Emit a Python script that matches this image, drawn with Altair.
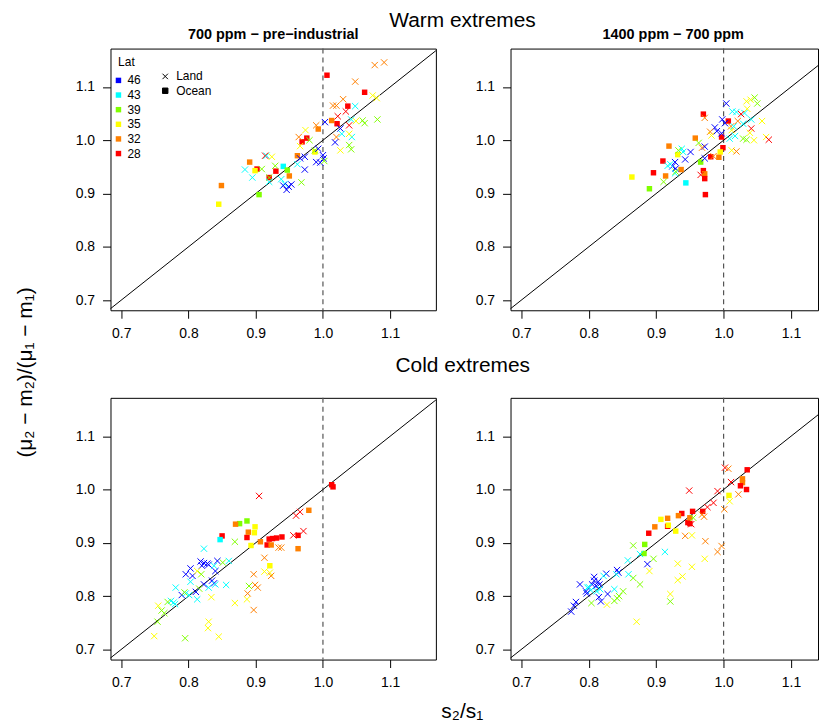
import altair as alt
import pandas as pd

FONT = "Liberation Sans"
LATS = ["46", "43", "39", "35", "32", "28"]
LAT_COLORS = ["#0000FF", "#00FFFF", "#80FF00", "#FFFF00", "#FF8000", "#FF0000"]
TYPES = ["Land", "Ocean"]
X_PATH = "M-1,-1L1,1M-1,1L1,-1"
TICKS = [0.7, 0.8, 0.9, 1.0, 1.1]
X_MIN, X_MAX, X_MAX_CLIPPED = 0.684, 1.168, 1.140
Y_MIN, Y_MAX = 0.681, 1.172

# (x = s2/s1, y = (mu2-m2)/(mu1-m1), lat)
WARM1_OCEAN = [(1.006,1.122,28),(1.062,1.090,28),(1.037,1.064,28),(1.013,1.037,32),(1.021,1.031,28),
               (0.993,1.021,32),(0.976,1.004,28),(0.969,0.997,28),(0.962,0.971,32),(0.988,0.978,35),
               (0.891,0.959,32),(0.902,0.946,28),(0.899,0.943,35),(0.941,0.951,43),(0.947,0.944,39),
               (0.930,0.942,28),(0.920,0.930,28),(0.950,0.933,32),(0.905,0.898,39),(0.849,0.915,32),
               (0.845,0.880,35)]
WARM1_LAND = [(1.077,1.141,32),(1.091,1.146,32),(1.048,1.110,32),(1.030,1.077,32),(1.015,1.065,32),
              (1.020,1.065,32),(1.048,1.064,43),(1.022,1.045,28),(1.034,1.054,28),(1.074,1.084,35),
              (1.080,1.079,35),(1.042,1.039,43),(1.049,1.036,35),(1.059,1.037,39),(1.062,1.032,39),
              (1.081,1.039,39),(1.003,1.034,46),(1.026,1.022,46),(1.039,1.028,28),(0.990,1.028,32),
              (1.028,1.012,43),(1.043,1.006,43),(1.039,1.012,35),(1.020,1.006,32),(1.018,0.996,46),
              (1.026,0.981,35),(1.039,0.991,39),(1.042,0.983,39),(0.964,1.006,32),(0.974,1.019,35),
              (0.980,1.000,39),(0.966,0.989,35),(0.988,0.981,39),(0.993,0.984,46),(1.000,0.972,46),
              (1.001,0.966,46),(0.990,0.959,46),(0.996,0.958,46),(1.002,0.961,39),(0.973,0.969,46),
              (0.966,0.966,46),(0.962,0.955,43),(0.973,0.945,46),(0.914,0.971,28),(0.916,0.971,43),
              (0.924,0.969,35),(0.929,0.952,39),(0.884,0.945,43),(0.895,0.930,43),(0.909,0.946,39),
              (0.920,0.930,39),(0.920,0.922,43),(0.938,0.927,43),(0.943,0.918,43),(0.941,0.915,46),
              (0.953,0.917,46),(0.946,0.907,46),(0.949,0.913,46),(0.968,0.921,39)]

WARM2_OCEAN = [(0.864,0.931,35),(0.890,0.909,39),(0.896,0.939,28),(0.914,0.933,32),(0.944,0.920,43),
               (0.910,0.961,28),(0.919,0.989,32),(0.932,0.973,35),(0.958,1.004,32),(0.970,1.049,28),
               (1.007,1.036,28),(0.997,1.006,28),(0.999,0.986,28),(0.995,0.978,35),(0.993,0.968,32),
               (0.981,0.969,28),(0.966,0.959,39),(0.970,0.943,28),(0.972,0.937,32),(0.972,0.928,28),
               (0.973,0.898,28),(0.937,0.945,32)]
WARM2_LAND = [(1.004,1.069,46),(1.034,1.073,35),(1.040,1.076,35),(1.046,1.080,39),(1.050,1.069,39),
              (1.035,1.059,35),(1.013,1.054,43),(1.019,1.053,43),(1.031,1.051,43),(1.026,1.049,28),
              (0.972,1.042,32),(0.998,1.039,46),(1.002,1.032,46),(0.987,1.024,46),(0.990,1.017,46),
              (1.021,1.036,32),(1.029,1.031,43),(1.041,1.039,43),(1.057,1.036,35),(1.041,1.022,28),
              (1.011,1.026,32),(1.012,1.019,35),(1.015,1.026,43),(1.039,1.014,35),(1.017,1.008,43),
              (1.009,1.003,43),(0.980,1.016,32),(0.982,1.009,35),(0.997,1.013,46),(1.029,1.003,39),
              (1.034,1.001,39),(1.045,1.000,35),(1.063,1.006,35),(1.067,1.001,28),(1.012,0.981,35),
              (1.019,0.979,32),(0.985,0.970,32),(0.972,0.988,46),(0.968,0.986,32),(0.963,0.995,39),
              (0.972,0.966,46),(0.951,0.978,46),(0.943,0.964,46),(0.938,0.984,43),(0.940,0.978,43),
              (0.933,0.981,39),(0.928,0.959,46),(0.924,0.951,46),(0.929,0.947,46),(0.917,0.952,43),
              (0.921,0.955,43),(0.928,0.938,43),(0.929,0.941,39),(0.911,0.922,39),(0.966,0.935,28)]

COLD1_OCEAN = [(1.013,1.009,28),(1.015,1.005,28),(0.979,0.961,32),(0.963,0.914,28),(0.963,0.889,32),
               (0.939,0.911,28),(0.931,0.909,28),(0.925,0.908,28),(0.920,0.907,28),(0.917,0.896,28),
               (0.923,0.896,32),(0.907,0.902,32),(0.893,0.895,35),(0.887,0.910,28),(0.889,0.920,32),
               (0.898,0.919,35),(0.899,0.930,35),(0.887,0.941,39),(0.876,0.936,39),(0.870,0.935,32),
               (0.921,0.857,35),(0.850,0.913,28),(0.847,0.906,43)]
COLD1_LAND = [(0.905,0.988,28),(0.960,0.951,28),(0.966,0.958,28),(0.971,0.922,28),(0.956,0.914,28),
              (0.934,0.891,32),(0.938,0.891,32),(0.913,0.872,32),(0.913,0.846,35),(0.921,0.844,35),
              (0.923,0.838,32),(0.897,0.841,32),(0.899,0.821,32),(0.903,0.816,32),(0.890,0.819,39),
              (0.888,0.805,32),(0.887,0.794,35),(0.869,0.787,35),(0.897,0.774,32),(0.869,0.902,39),
              (0.823,0.889,43),(0.818,0.865,46),(0.823,0.862,46),(0.828,0.861,46),(0.820,0.857,46),
              (0.830,0.859,46),(0.843,0.866,46),(0.840,0.847,46),(0.838,0.857,43),(0.851,0.863,39),
              (0.860,0.866,43),(0.803,0.852,46),(0.796,0.841,46),(0.806,0.838,46),(0.819,0.841,39),
              (0.813,0.847,35),(0.803,0.827,43),(0.823,0.822,46),(0.835,0.829,46),(0.838,0.824,46),
              (0.830,0.816,43),(0.840,0.822,43),(0.856,0.821,43),(0.816,0.814,39),(0.811,0.808,46),
              (0.790,0.802,46),(0.796,0.805,43),(0.801,0.802,43),(0.794,0.807,39),(0.813,0.794,43),
              (0.781,0.816,43),(0.834,0.798,35),(0.774,0.791,43),(0.780,0.785,43),(0.778,0.788,43),
              (0.769,0.789,39),(0.755,0.782,35),(0.760,0.773,39),(0.764,0.768,39),(0.754,0.752,39),
              (0.749,0.725,35),(0.795,0.721,39),(0.830,0.752,35),(0.829,0.740,35),(0.845,0.724,35)]

COLD2_OCEAN = [(1.035,1.037,28),(1.028,1.020,32),(1.028,1.013,32),(1.025,1.007,28),(1.034,1.000,28),
               (1.008,0.989,35),(0.954,0.959,28),(0.969,0.959,28),(0.938,0.955,28),(0.933,0.951,32),
               (0.917,0.946,32),(0.907,0.944,35),(0.947,0.938,28),(0.950,0.936,28),(0.917,0.931,28),
               (0.918,0.933,35),(0.898,0.930,32),(0.929,0.922,35),(0.889,0.918,28),(0.883,0.897,39),
               (0.882,0.880,39),(0.950,0.947,32)]
COLD2_LAND = [(1.002,1.041,28),(1.007,1.039,32),(1.011,1.014,28),(0.991,0.997,28),(0.949,0.998,28),
              (1.022,0.991,32),(1.009,0.978,35),(0.985,0.975,28),(0.976,0.967,28),(1.001,0.963,32),
              (0.968,0.953,32),(0.971,0.949,32),(0.955,0.947,39),(0.952,0.935,28),(0.943,0.913,32),
              (0.953,0.914,35),(0.973,0.903,32),(0.997,0.894,32),(0.991,0.883,32),(0.972,0.870,35),
              (0.913,0.883,43),(0.896,0.870,39),(0.887,0.860,46),(0.890,0.847,35),(0.932,0.861,35),
              (0.953,0.855,35),(0.939,0.837,35),(0.932,0.830,35),(0.921,0.804,35),(0.921,0.790,39),
              (0.866,0.895,39),(0.876,0.879,43),(0.858,0.867,43),(0.842,0.849,46),(0.844,0.844,46),
              (0.841,0.841,43),(0.826,0.842,46),(0.822,0.838,43),(0.859,0.841,43),(0.866,0.834,39),
              (0.876,0.822,39),(0.808,0.836,46),(0.808,0.829,46),(0.814,0.827,46),(0.816,0.822,46),
              (0.811,0.819,46),(0.805,0.822,46),(0.787,0.822,46),(0.798,0.816,43),(0.800,0.817,43),
              (0.803,0.811,43),(0.796,0.809,46),(0.797,0.805,46),(0.817,0.813,43),(0.812,0.809,43),
              (0.838,0.813,43),(0.828,0.804,46),(0.815,0.798,46),(0.818,0.790,46),(0.851,0.809,39),
              (0.845,0.800,39),(0.842,0.796,39),(0.838,0.791,39),(0.827,0.784,35),(0.804,0.787,39),
              (0.781,0.789,46),(0.778,0.782,46),(0.774,0.771,46),(0.871,0.752,35)]

ROW_TITLES = ["Warm extremes", "Cold extremes"]
PANEL_TITLES = ["700 ppm \u2212 pre\u2212industrial", "1400 ppm \u2212 700 ppm"]
X_TITLE = "s\u2082/s\u2081"
Y_TITLE = "(\u03bc\u2082 \u2212 m\u2082)/(\u03bc\u2081 \u2212 m\u2081)"

W_LEFT, W_RIGHT, H = 327, 309, 263


def frame(rows, kind, latcol):
    return pd.DataFrame({"x": [r[0] for r in rows], "y": [r[1] for r in rows],
                         latcol: [str(r[2]) for r in rows], "type": kind})


def panel(land, ocean, xmax, width, title=None, legends=False, xtitle=False, ytitle=False):
    xs = alt.Scale(domain=[X_MIN, xmax], nice=False, zero=False)
    ys = alt.Scale(domain=[Y_MIN, Y_MAX], nice=False, zero=False)
    if xtitle:
        xaxis = alt.Axis(values=TICKS, format=".1f", title=X_TITLE, titleX=353, titleY=52,
                         titleAlign="center", titleBaseline="middle", titleAngle=0)
    else:
        xaxis = alt.Axis(values=TICKS, format=".1f", title=None)
    if ytitle:
        yaxis = alt.Axis(values=TICKS, format=".1f", title=Y_TITLE, titleX=-85, titleY=325,
                         titleAlign="center", titleBaseline="middle", titleAngle=270)
    else:
        yaxis = alt.Axis(values=TICKS, format=".1f", title=None)
    xe = alt.X("x:Q", scale=xs, axis=xaxis)
    ye = alt.Y("y:Q", scale=ys, axis=yaxis)

    if legends:
        color_leg = alt.Legend(title="Lat", orient="none", legendX=2, legendY=9, symbolType="square",
                               symbolSize=30, symbolStrokeWidth=0, labelFontSize=12, titleFontSize=12,
                               titleFontWeight="normal", titleAnchor="middle", padding=0,
                               rowPadding=2.7, labelOffset=3,
                               labelFont=FONT, titleFont=FONT, labelColor="black", titleColor="black")
        shape_leg = alt.Legend(title=None, orient="none", legendX=49, legendY=22, symbolSize=30,
                               symbolFillColor="black", symbolStrokeColor="black", symbolStrokeWidth=1,
                               labelFontSize=12, padding=0, rowPadding=2.4, labelOffset=5,
                               labelFont=FONT, labelColor="black")
    else:
        color_leg = None
        shape_leg = None

    shape_enc = alt.Shape("type:N", scale=alt.Scale(domain=TYPES, range=[X_PATH, "square"]),
                          legend=shape_leg)

    vline = alt.Chart(pd.DataFrame({"x": [1.0]})).mark_rule(
        color="#555555", strokeDash=[5, 4], strokeWidth=1.2).encode(x=xe)
    d_end = min(xmax, Y_MAX)
    diag = alt.Chart(pd.DataFrame({"x": [X_MIN], "y": [X_MIN], "x2": [d_end], "y2": [d_end]})).mark_rule(
        color="black", strokeWidth=1).encode(x=xe, y=ye, x2="x2:Q", y2="y2:Q")
    ocean_layer = alt.Chart(frame(ocean, "Ocean", "lat")).mark_point(
        filled=True, size=30, opacity=1).encode(
        x=xe, y=ye,
        color=alt.Color("lat:N", scale=alt.Scale(domain=LATS, range=LAT_COLORS), legend=color_leg),
        shape=shape_enc)
    land_layer = alt.Chart(frame(land, "Land", "lat_land")).mark_point(
        filled=False, size=40, strokeWidth=1, opacity=1).encode(
        x=xe, y=ye,
        stroke=alt.Stroke("lat_land:N", scale=alt.Scale(domain=LATS, range=LAT_COLORS), legend=None),
        shape=shape_enc)

    ch = alt.layer(vline, diag, ocean_layer, land_layer).properties(width=width, height=H)
    if title is not None:
        ch = ch.properties(title=title)
    return ch


def panel_title(text, dx=0):
    return alt.TitleParams(text, fontSize=14.5, fontWeight="bold", font=FONT, anchor="middle",
                           frame="group", baseline="alphabetic", offset=-5.8, dx=dx, color="black")


cold_title = alt.TitleParams(ROW_TITLES[1], fontSize=21, fontWeight="normal", font=FONT,
                             anchor="middle", frame="group", baseline="alphabetic", offset=4,
                             dx=190.5, color="black")

tl = panel(WARM1_LAND, WARM1_OCEAN, X_MAX, W_LEFT, panel_title(PANEL_TITLES[0]), legends=True, ytitle=True)
tr = panel(WARM2_LAND, WARM2_OCEAN, X_MAX_CLIPPED, W_RIGHT, panel_title(PANEL_TITLES[1], 9))
bl = panel(COLD1_LAND, COLD1_OCEAN, X_MAX, W_LEFT, cold_title, xtitle=True)
br = panel(COLD2_LAND, COLD2_OCEAN, X_MAX_CLIPPED, W_RIGHT)

chart = alt.concat(
    tl, tr, bl, br, columns=2, spacing={"row": 88, "column": 75}, bounds="flush",
    title=alt.TitleParams(ROW_TITLES[0], fontSize=21, fontWeight="normal", font=FONT,
                          anchor="middle", baseline="alphabetic", offset=-21, dx=46, color="black")
).resolve_scale(
    x="independent", y="independent", color="independent", stroke="independent", shape="independent"
).resolve_legend(
    color="independent", stroke="independent", shape="independent"
).properties(
    padding={"left": 6, "top": 0, "right": 0, "bottom": 0}
).configure(font=FONT).configure_view(stroke="black", strokeWidth=1).configure_axis(
    grid=False, domain=False, ticks=True, tickColor="black", tickWidth=1, tickSize=8,
    labelFont=FONT, labelFontSize=14, labelColor="black", labelPadding=8,
    titleFont=FONT, titleFontSize=21, titleFontWeight="normal", titleColor="black")

chart.save("out.html", embed_options={"renderer": "svg", "actions": False})
